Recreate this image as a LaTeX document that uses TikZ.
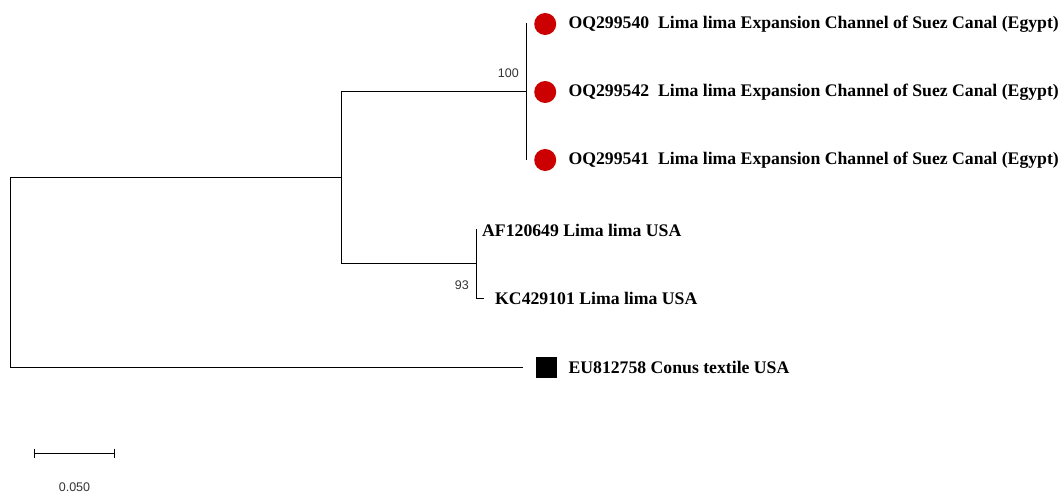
\documentclass[tikz,border=0pt]{standalone}
\usepackage{fontspec}
\setmainfont{Liberation Serif}
\newfontfamily\bootfont{Liberation Sans}
\usetikzlibrary{arrows.meta, positioning, calc}

\begin{document}
\begin{tikzpicture}[
    x=1pt, y=-1pt,
    branch/.style={draw, line width=1pt, line cap=rect},
    taxon/.style={anchor=west, inner sep=0pt,
                  font=\fontsize{17.7}{20}\selectfont\bfseries},
    egypt/.style={circle, fill=red!80!black, minimum size=22pt, inner sep=0pt},
    outgroup/.style={rectangle, fill=black, minimum size=21pt, inner sep=0pt},
    boot/.style={inner sep=0pt, text=black!80,
                 font=\bootfont\fontsize{12.5}{14}\selectfont}
  ]
  \useasboundingbox (0,0) rectangle (1062,494);

  % internal nodes
  \coordinate (root)  at (10,272);
  \coordinate (clade) at (341,178);
  \coordinate (lima)  at (526,92);
  \coordinate (usa)   at (476,264);

  % tips
  \coordinate (t1) at (526,24);
  \coordinate (t2) at (526,92);
  \coordinate (t3) at (526,160);
  \coordinate (t4) at (476,230);
  \coordinate (t5) at (483,298);
  \coordinate (t6) at (522,367);

  \draw[branch] (root) |- (clade);
  \draw[branch] (root) |- (t6);
  \draw[branch] (clade) |- (lima);
  \draw[branch] (clade) |- (usa);
  \draw[branch] (lima) |- (t1);
  \draw[branch] (lima) |- (t3);
  \draw[branch] (usa) |- (t4);
  \draw[branch] (usa) |- (t5);

  % Suez Canal sequences
  \node[egypt, right=8pt of t1] (d1) {};
  \node[egypt, right=8pt of t2] (d2) {};
  \node[egypt, right=8pt of t3] (d3) {};
  \node[taxon, right=12pt of d1] (l1) {OQ299540\ \ Lima lima Expansion Channel of Suez Canal (Egypt)};
  \node[taxon, right=12pt of d2] (l2) {OQ299542\ \ Lima lima Expansion Channel of Suez Canal (Egypt)};
  \node[taxon, right=12pt of d3] (l3) {OQ299541\ \ Lima lima Expansion Channel of Suez Canal (Egypt)};

  \node[taxon, right=6pt of t4] (l4) {AF120649 Lima lima USA};
  \node[taxon, right=12pt of t5] (l5) {KC429101 Lima lima USA};

  \node[outgroup, right=14pt of t6] (sq) {};
  \node[taxon, right=11pt of sq] (l6) {EU812758 Conus textile USA};

  % bootstrap values
  \node[boot, anchor=south east] (b1) at ([shift={(-7,-14)}]lima) {100};
  \node[boot, anchor=north east] (b2) at ([shift={(-7,17)}]usa) {93};

  % scale bar
  \coordinate (s0) at (34,453);
  \coordinate (s1) at (115,453);
  \draw[line width=1pt, {Bar[width=9pt]}-{Bar[width=9pt]}] (s0) -- (s1);
  \node[boot, below=30pt of $(s0)!0.5!(s1)$] (sl) {0.050};
\end{tikzpicture}
\end{document}
